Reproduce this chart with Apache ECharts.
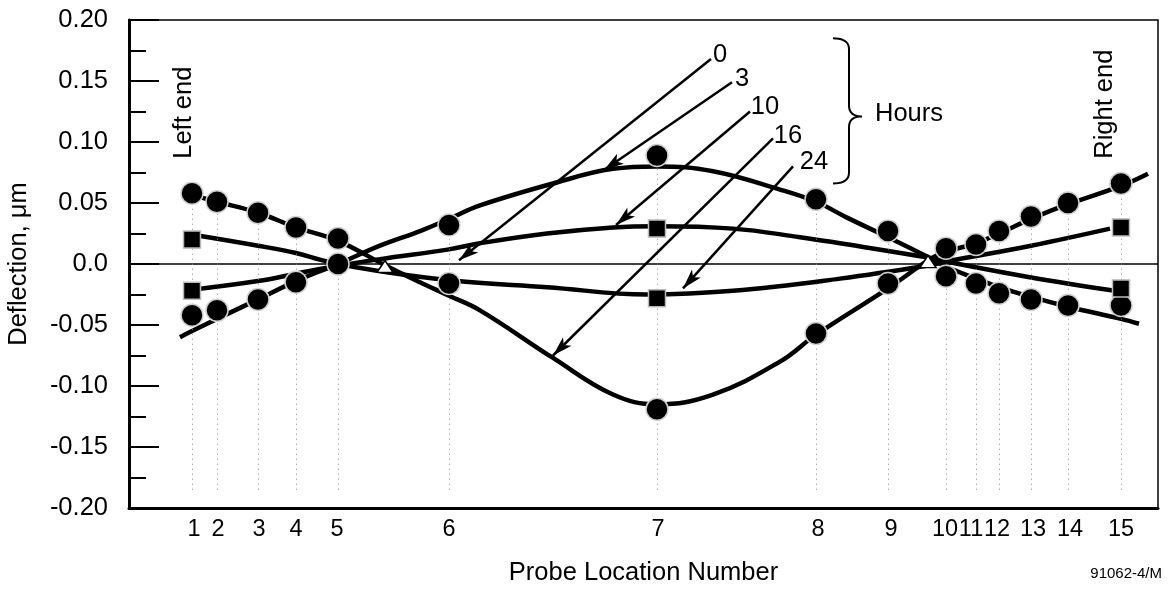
<!DOCTYPE html>
<html><head><meta charset="utf-8">
<script src="https://cdn.jsdelivr.net/npm/echarts@6/dist/echarts.min.js"></script>
<style>html,body{margin:0;padding:0;background:#fff}#c{width:1175px;height:589px}</style>
</head><body><div id="c"></div>
<script>
// ---------- data ----------
const probeLabels = ['1','2','3','4','5','6','7','8','9','10','11','12','13','14','15'];
const probePos = [63, 88, 129, 167, 209, 320, 528, 687, 759, 817, 847, 870, 902, 939, 992];
const probeLabelPos = [65, 89, 130, 167, 208, 320, 529, 689, 762, 816, 842, 868, 904, 941, 992];
const xMax = 1029;
const yTickLabels = ['-0.20','-0.15','-0.10','-0.05','0.0','0.05','0.10','0.15','0.20'];

// measured points (circles) for 3 h and 16 h
const points3h  = [-0.042,-0.038,-0.029,-0.015,0.000,0.032,0.089,0.053,0.027,0.013,-0.016,-0.024,-0.029,-0.034,-0.034];
const points16h = [0.058,0.051,0.042,0.030,0.021,-0.016,-0.119,-0.057,-0.016,-0.010,0.016,0.027,0.039,0.050,0.066];
// measured points (squares) for 10 h and 24 h, at probes 1, 7, 15
const squareProbes = [0, 6, 14];
const points10h = [-0.022, 0.029, -0.020];
const points24h = [0.020, -0.028, 0.030];

// fitted curves [position, deflection]
const curve0h  = [[0,0],[xMax,0]];
const curve3h  = [[51,-0.060],[63,-0.055],[88,-0.045],[129,-0.029],[167,-0.014],[209,0.000],[251,0.015],[291,0.027],[320,0.037],[351,0.048],[424,0.066],[484,0.078],[528,0.080],[584,0.076],[651,0.061],[687,0.051],[718,0.038],[759,0.022],[801,0.005],[817,-0.002],[847,-0.012],[870,-0.019],[902,-0.027],[939,-0.035],[992,-0.045],[1010,-0.049]];
const curve16h = [[61,0.057],[88,0.051],[129,0.042],[167,0.030],[209,0.019],[256,-0.001],[291,-0.015],[320,-0.026],[351,-0.038],[424,-0.077],[484,-0.107],[528,-0.115],[584,-0.107],[651,-0.080],[687,-0.058],[759,-0.020],[801,0.004],[817,0.010],[847,0.017],[870,0.025],[902,0.037],[939,0.049],[992,0.064],[1019,0.074]];
const curve10h = [[64,-0.021],[129,-0.014],[167,-0.008],[198,-0.003],[251,0.004],[320,0.012],[351,0.017],[418,0.025],[484,0.030],[528,0.031],[604,0.029],[671,0.022],[711,0.017],[801,0.005],[817,0.002],[902,-0.011],[986,-0.022]];
const curve24h = [[64,0.024],[129,0.015],[167,0.009],[198,0.002],[251,-0.006],[328,-0.014],[418,-0.019],[518,-0.025],[604,-0.022],[711,-0.012],[801,-0.001],[817,0.002],[902,0.015],[981,0.029]];

// zero-crossing markers
const crossPos = [256, 799];
const crossVal = [-0.002, 0.002];

// hour annotations: label, label position, arrow start, arrow end
const hourLabels   = ['0','3','10','16','24'];
const hourLabelPos = [[591,0.171],[613,0.152],[636,0.129],[659,0.105],[685,0.084]];
const arrowStart   = [[582,0.168],[603,0.149],[621,0.125],[644,0.103],[664,0.080]];
const arrowEnd     = [[330,0.003],[475,0.077],[487,0.032],[424,-0.075],[554,-0.020]];

// other texts
const noteTexts = ['Hours','Left end','Right end'];
const notePos   = [[780,0.123],[55,0.124],[976,0.131]];
const noteRot   = [0, 90, 90];
// brace: xLeft, xVertical, xTip, yTop, yMid, yBottom
const brace = [704, 720, 733, 0.185, 0.121, 0.066];

// ---------- chart ----------
const FONT = '"Liberation Sans", Arial, Helvetica, sans-serif';
const FS = 25.5;
const chart = echarts.init(document.getElementById('c'));

const curveStyle = {color:'#000', width:4.5};
function curveSeries(name, data){
  return {name, type:'line', data, smooth:0.4, showSymbol:false, symbol:'none',
    lineStyle:curveStyle, z:3, silent:true};
}

const textData = hourLabels.map((t,i)=>[hourLabelPos[i][0], hourLabelPos[i][1], 0, t])
  .concat(noteTexts.map((t,i)=>[notePos[i][0], notePos[i][1], noteRot[i], t]));

const option = {
  animation:false,
  backgroundColor:'#fff',
  grid:{left:129, right:17, top:20, bottom:81, containLabel:false, outerBoundsMode:'none',
    show:true, borderColor:'#000', borderWidth:1.5},
  xAxis:{
    type:'value', min:0, max:xMax,
    name:'Probe Location Number', nameLocation:'middle', nameGap:52,
    nameTextStyle:{fontFamily:FONT, fontSize:FS, color:'#000'},
    axisLine:{show:true, onZero:false, lineStyle:{color:'#000', width:3}},
    axisTick:{show:false},
    splitLine:{show:false},
    axisLabel:{customValues:probeLabelPos, formatter:(v)=>{const i=probeLabelPos.indexOf(v);return i>=0?probeLabels[i]:'';},
      fontFamily:FONT, fontSize:23.5, color:'#000', margin:10, hideOverlap:false}
  },
  yAxis:{
    type:'value', min:-0.2, max:0.2, interval:0.05,
    name:'Deflection, \u03bcm', nameLocation:'middle', nameGap:97,
    nameTextStyle:{fontFamily:FONT, fontSize:FS, color:'#000'},
    axisLine:{show:true, onZero:false, lineStyle:{color:'#000', width:3}},
    axisTick:{show:true, inside:true, length:30, lineStyle:{color:'#000', width:2}},
    minorTick:{show:true, splitNumber:2, length:17, lineStyle:{color:'#000', width:2}},
    splitLine:{show:false},
    axisLabel:{fontFamily:FONT, fontSize:FS, color:'#000', margin:21,
      formatter:(v)=>yTickLabels[Math.round((v+0.2)/0.05)]}
  },
  series:[
    // dotted probe guide lines
    {type:'line', data:[], silent:true,
      markLine:{silent:true, symbol:['none','none'], animation:false,
        lineStyle:{color:'#888', width:1, type:[1,4]}, label:{show:false},
        data:probePos.map((x,i)=>[{coord:[x,-0.185]},{coord:[x,Math.max(points3h[i],points16h[i])]}])}},
    // 0 h reference line with hour arrows
    {name:'0 h', type:'line', data:curve0h, showSymbol:false, symbol:'none',
      lineStyle:{color:'#000', width:1.5}, z:2, silent:true,
      markLine:{silent:true, animation:false, symbol:['none','arrow'], symbolSize:[9,20],
        lineStyle:{color:'#000', width:2.5, type:'solid'}, label:{show:false},
        data:arrowStart.map((s,i)=>[{coord:s},{coord:arrowEnd[i]}])}},
    curveSeries('3 h', curve3h),
    curveSeries('10 h', curve10h),
    curveSeries('16 h', curve16h),
    curveSeries('24 h', curve24h),
    // measured points
    {type:'scatter', data:probePos.map((x,i)=>[x,points3h[i]]), symbol:'circle', symbolSize:22,
      itemStyle:{color:'#000', opacity:1, borderColor:'#d0d0d0', borderWidth:1.5}, z:5, silent:true},
    {type:'scatter', data:probePos.map((x,i)=>[x,points16h[i]]), symbol:'circle', symbolSize:22,
      itemStyle:{color:'#000', opacity:1, borderColor:'#d0d0d0', borderWidth:1.5}, z:5, silent:true},
    {type:'scatter', data:squareProbes.map((p,i)=>[probePos[p],points10h[i]]), symbol:'rect', symbolSize:17,
      itemStyle:{color:'#000', opacity:1, borderColor:'#bbb', borderWidth:1.5}, z:5, silent:true},
    {type:'scatter', data:squareProbes.map((p,i)=>[probePos[p],points24h[i]]), symbol:'rect', symbolSize:17,
      itemStyle:{color:'#000', opacity:1, borderColor:'#bbb', borderWidth:1.5}, z:5, silent:true},
    {type:'scatter', data:crossPos.map((x,i)=>[x,crossVal[i]]), symbol:'triangle', symbolSize:[16,12],
      itemStyle:{color:'#fff', opacity:1, borderColor:'#000', borderWidth:1.5}, z:6, silent:true},
    // brace
    {type:'custom', data:[brace], silent:true, z:4, clip:false,
      renderItem:(params, api)=>{
        const xl=api.value(0), xv=api.value(1), xt=api.value(2), yt=api.value(3), ym=api.value(4), yb=api.value(5);
        const r=0.009;
        const P=(x,y)=>api.coord([x,y]);
        const pts=[];
        const quad=(a,c,b)=>{for(let k=0;k<=10;k++){const t=k/10,u=1-t;pts.push([u*u*a[0]+2*u*t*c[0]+t*t*b[0],u*u*a[1]+2*u*t*c[1]+t*t*b[1]]);}};
        quad(P(xl,yt),P(xv,yt),P(xv,yt-r));
        quad(P(xv,ym+r),P(xv,ym),P(xt,ym));
        quad(P(xt,ym),P(xv,ym),P(xv,ym-r));
        quad(P(xv,yb+r),P(xv,yb),P(xl,yb));
        return {type:'polyline', shape:{points:pts}, style:{stroke:'#000', lineWidth:2, fill:null}};
      }},
    // annotation texts
    {type:'custom', data:textData, silent:true, z:7, clip:false,
      renderItem:(params, api)=>{
        const d=textData[params.dataIndex];
        const p=api.coord([d[0],d[1]]);
        return {type:'text', x:p[0], y:p[1], rotation:d[2]*Math.PI/180,
          style:{text:d[3], fill:'#000', font:FS+'px '+FONT, align:'center', verticalAlign:'middle'}};
      }}
  ],
  graphic:[{type:'text', right:13, bottom:8,
    style:{text:'91062-4/M', fill:'#000', font:'15px '+FONT}}]
};
chart.setOption(option);
</script>
</body></html>
